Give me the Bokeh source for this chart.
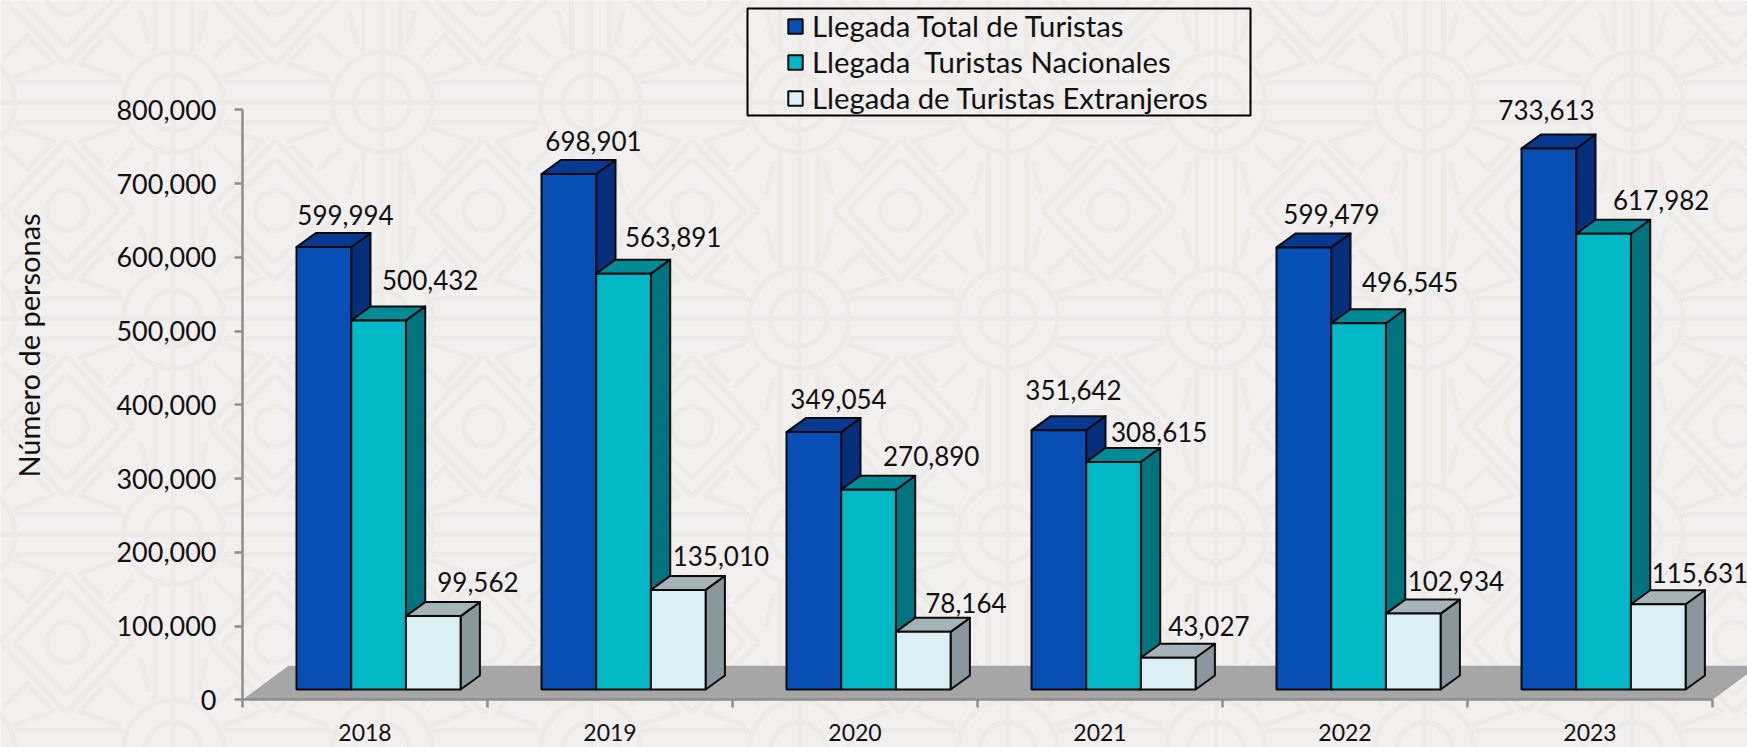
import math
from bokeh.plotting import figure
from bokeh.models import (ColumnDataSource, FixedTicker, Label, Legend, LegendItem, LinearAxis,
                          NumeralTickFormatter, Range1d)
from bokeh.core.properties import value
from bokeh.embed import file_html
from bokeh.resources import INLINE

# ---- data ----
years = ["2018", "2019", "2020", "2021", "2022", "2023"]
total = [599994, 698901, 349054, 351642, 599479, 733613]
nacionales = [500432, 563891, 270890, 308615, 496545, 617982]
extranjeros = [99562, 135010, 78164, 43027, 102934, 115631]
series_names = ["Llegada Total de Turistas", "Llegada  Turistas Nacionales", "Llegada de Turistas Extranjeros"]
y_ticks = [0, 100000, 200000, 300000, 400000, 500000, 600000, 700000, 800000]

# hand-placed label nudges in pixels, relative to the top centre of each 3-D bar
nudge_x = [[12, 15, 15, 5, 18, -12], [42, 40, 53, 36, 42, 48], [35, 33, 33, 31, 33, 32]]
nudge_y = [[-18, -19, -19, -26, -19, -24], [-26, -23, -20, -16, -27, -20], [-20, -20, -15, -18, -19, -17]]

# ---- styles ----
FRONT = ["#084fb5", "#00b8c6", "#dceff5"]
SIDE = ["#052f7c", "#00747e", "#8a979c"]
TOP = ["#06398f", "#008a95", "#a6b4b9"]
OUT = "#0a0a0a"
AXIS = "#8e8e8e"
BG = "#f1f0ee"
TILE = "#ecebe7"
FONT = "Lato"

W, H = 1747, 747
AX_L, AX_B, AX_T = 242.0, 699.3, 109.3   # pixel position of the axes
CAT_W = 245.0
PX_PER_UNIT = (AX_B - AX_T) / 800000.0
ux = 1.0 / CAT_W          # one pixel in x data units
uy = 1.0 / PX_PER_UNIT    # one pixel in y data units

p = figure(width=W, height=H, output_backend="svg", toolbar_location=None,
           x_axis_location=None, y_axis_location=None,
           x_range=Range1d((0 - AX_L) * ux, (W - AX_L) * ux),
           y_range=Range1d((AX_B - H) * uy, AX_B * uy),
           min_border=0, background_fill_color=BG, border_fill_color=BG,
           outline_line_color=None)
p.styles = {"position": "absolute", "left": "0px", "top": "0px"}
p.grid.visible = False
p.extra_x_ranges["px"] = Range1d(0, W)
p.extra_y_ranges["px"] = Range1d(H, 0)

# ---- background ornament (pixel space) ----
sx, sy, rx, ry, rr = [], [], [], [], []
def seg(x0, y0, x1, y1):
    sx.append([x0, x1]); sy.append([y0, y1])
PER_X, PER_Y = 208.5, 216.0
seg(0, 102, W, 102); seg(0, 318, W, 318); seg(0, 534, W, 534)
for i in range(-1, 9):
    cxx = 173 + i * PER_X
    dxx = cxx - 107
    seg(cxx, 0, cxx, H)
    for j in range(-1, 4):
        cyy = 102 + j * PER_Y
        dyy = cyy + 108
        rx += [cxx, cxx]; ry += [cyy, cyy]; rr += [100, 56]
        rx.append(dxx); ry.append(dyy); rr.append(40)
        for s in (-1, 1):
            seg(cxx + 50, cyy + s * 20, cxx + PER_X - 50, cyy + s * 20)
            seg(cxx + s * 19, cyy + 50, cxx + s * 19, cyy + PER_Y - 50)
            for t in (-1, 1):
                seg(cxx + s * 40, cyy + t * 45, cxx + s * 65, cyy + t * 69)
                seg(cxx + s * 25, cyy + t * 59, cxx + s * 33, cyy + t * 92)
                seg(dxx + s * 11, dyy + t * 68, dxx + s * 54, dyy + t * 83)
                seg(dxx + s * 16, dyy + t * 66, dxx + s * 37, dyy + t * 44)
                seg(dxx, dyy + t * 70, dxx + s * 67, dyy)
                seg(dxx, dyy + t * 52, dxx + s * 52, dyy)
p.multi_line(sx, sy, line_color=TILE, line_width=5, x_range_name="px", y_range_name="px", level="underlay")
p.scatter(rx, ry, size=rr, marker="circle", fill_color=None, line_color=TILE, line_width=5,
          x_range_name="px", y_range_name="px", level="underlay")

# ---- 3-D geometry in data units ----
BAR_W = 54.7 * ux
GROUP_PAD = 54.0 * ux
FRONT_UP = 10.3 * uy
DEPTH_X = 19.3 * ux
DEPTH_Y = 14.0 * uy
FLOOR_X = 46.0 * ux
FLOOR_Y = 34.0 * uy
n = len(years)

p.patch([0, FLOOR_X, n + FLOOR_X, n], [0, FLOOR_Y, FLOOR_Y, 0], fill_color="#a6a6a6", line_color=None)

legend_items = []
label_x, label_y, label_t, label_dx, label_dy = [], [], [], [], []
for k, vals in enumerate([total, nacionales, extranjeros]):
    left = [g + GROUP_PAD + k * BAR_W for g in range(n)]
    right = [l + BAR_W for l in left]
    tops = [FRONT_UP + v for v in vals]
    p.patches([[r, r + DEPTH_X, r + DEPTH_X, r] for r in right],
              [[t, t + DEPTH_Y, FRONT_UP + DEPTH_Y, FRONT_UP] for t in tops],
              fill_color=SIDE[k], line_color=OUT, line_width=2, line_join="round")
    p.patches([[l, l + DEPTH_X, r + DEPTH_X, r] for l, r in zip(left, right)],
              [[t, t + DEPTH_Y, t + DEPTH_Y, t] for t in tops],
              fill_color=TOP[k], line_color=OUT, line_width=2, line_join="round")
    bars = p.vbar(x=[(l + r) / 2 for l, r in zip(left, right)], width=BAR_W,
                  bottom=FRONT_UP, top=tops, fill_color=FRONT[k], line_color=OUT, line_width=2)
    legend_items.append(LegendItem(label=series_names[k], renderers=[bars]))
    for g, v in enumerate(vals):
        label_x.append((left[g] + right[g] + DEPTH_X) / 2)
        label_y.append(tops[g] + DEPTH_Y)
        label_t.append(f"{v:,}")
        label_dx.append(nudge_x[k][g])
        label_dy.append(nudge_y[k][g])

p.text("x", "y", text="t", x_offset="dx", y_offset="dy",
       source=ColumnDataSource(dict(x=label_x, y=label_y, t=label_t, dx=label_dx, dy=label_dy)),
       text_font=value(FONT), text_font_size="26px", text_color="#111111",
       text_align="center", text_baseline="middle")

# ---- axes ----
yaxis = LinearAxis(ticker=FixedTicker(ticks=y_ticks), formatter=NumeralTickFormatter(format="0,0"),
                   fixed_location=0, bounds=(0, 800000), axis_line_color=AXIS, axis_line_width=2.5,
                   major_tick_line_color=AXIS, major_tick_line_width=2.5, major_tick_in=0, major_tick_out=8,
                   minor_tick_line_color=None, major_label_standoff=18,
                   major_label_text_font=FONT, major_label_text_font_size="27px",
                   major_label_text_color="#111111")
p.add_layout(yaxis, "left")
p.add_layout(Label(x=28, y=H - 345, x_units="screen", y_units="screen", text="Número de personas",
                   angle=math.pi / 2, text_align="center", text_baseline="middle",
                   text_font=FONT, text_font_size="29px", text_color="#111111"))

xaxis = LinearAxis(ticker=FixedTicker(ticks=list(range(n + 1))), fixed_location=0, bounds=(0, n),
                   axis_line_color=AXIS, axis_line_width=2.5, major_tick_line_color=AXIS,
                   major_tick_line_width=2.5, major_tick_in=0, major_tick_out=8,
                   minor_tick_line_color=None, major_label_text_color=None,
                   major_label_text_font_size="1px", major_label_standoff=0,
                   major_label_overrides={i: "" for i in range(n + 1)})
p.add_layout(xaxis, "below")

xlabels = LinearAxis(ticker=FixedTicker(ticks=[g + 0.5 for g in range(n)]), fixed_location=0,
                     axis_line_color=None, major_tick_line_color=None, minor_tick_line_color=None,
                     major_label_standoff=18, major_label_text_font=FONT,
                     major_label_text_font_size="23px", major_label_text_color="#111111",
                     major_label_overrides={g + 0.5: y for g, y in enumerate(years)})
p.add_layout(xlabels, "below")

# ---- legend ----
p.quad(left=[747], right=[1250], top=[8], bottom=[115], fill_color=None, line_color="#000000", line_width=2,
       x_range_name="px", y_range_name="px", level="overlay")
legend = Legend(items=legend_items, location=(786, H - 115), orientation="vertical", margin=0,
                padding=8, spacing=1, glyph_width=18, glyph_height=18, label_standoff=8,
                label_text_font=FONT, label_text_font_size="29.3px", label_text_color="#111111",
                background_fill_alpha=0, border_line_color=None)
p.add_layout(legend)

open("out.html", "w").write(file_html(p, INLINE))
